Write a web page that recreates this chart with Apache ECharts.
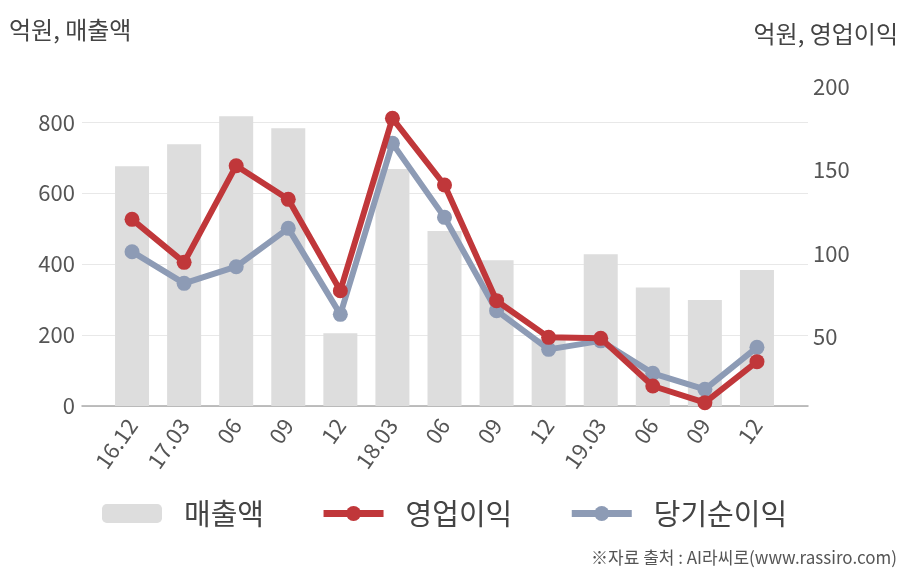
<!DOCTYPE html>
<html>
<head>
<meta charset="utf-8">
<script src="https://cdn.jsdelivr.net/npm/echarts@6/dist/echarts.min.js"></script>
<style>
html,body{margin:0;padding:0;background:#fff;}
#chart{width:908px;height:580px;}
</style>
</head>
<body>
<div id="chart"></div>
<script>
const categories = ['16.12','17.03','06','09','12','18.03','06','09','12','19.03','06','09','12'];
const sales = [676, 738, 817, 783, 205, 668, 493, 411, 190, 428, 334, 299, 383];
const operatingProfit = [120.4, 94.6, 152.6, 132.4, 77.6, 181, 141, 71.6, 49.6, 49, 20.4, 10.4, 35];
const netProfit = [101, 82, 92, 115, 63.4, 166, 121.6, 65.6, 42.4, 47.5, 28, 18.4, 43.6];
const leftTicks = [0, 200, 400, 600, 800];
const rightTicks = [50, 100, 150, 200];

const FONT = '"Noto Sans CJK KR", "Noto Sans", sans-serif';
const chart = echarts.init(document.getElementById('chart'));

const option = {
  backgroundColor: '#ffffff',
  animation: false,
  textStyle: { fontFamily: FONT },
  graphic: [
    { type: 'text', left: 9, top: 18, style: { text: '억원, 매출액', font: '24px ' + FONT, fill: '#444' } },
    { type: 'text', right: 10, top: 22, style: { text: '억원, 영업이익', font: '24px ' + FONT, fill: '#444' } },
    { type: 'text', right: 11, top: 549, style: { text: '※자료 출처 : AI라씨로(www.rassiro.com)', font: '17px ' + FONT, fill: '#555' } }
  ],
  legend: {
    left: 102,
    top: 499,
    padding: 0,
    itemWidth: 60,
    itemHeight: 19,
    itemGap: 56,
    data: ['매출액', '영업이익', '당기순이익'],
    lineStyle: { width: 7 },
    textStyle: { fontSize: 29, color: '#444', fontFamily: FONT, padding: [0, 0, 0, 17] }
  },
  grid: [
    { left: 106, right: 125, top: 86.7, bottom: 174 },
    { left: 82, right: 100, top: 122.2, bottom: 174 }
  ],
  xAxis: [
    {
      type: 'category', gridIndex: 0, data: categories,
      axisLine: { show: false }, axisTick: { show: false },
      axisLabel: { rotate: 55, margin: 15, fontSize: 22, color: '#555', fontFamily: FONT, interval: 0 }
    },
    {
      type: 'value', gridIndex: 1, min: 0, max: 1,
      axisLine: { show: true, lineStyle: { color: '#aaaaaa', width: 1.5 } },
      axisTick: { show: false }, axisLabel: { show: false }, splitLine: { show: false }
    }
  ],
  yAxis: [
    {
      type: 'value', gridIndex: 0, min: 0, max: 900, position: 'left',
      axisLine: { show: false }, axisTick: { show: false }, splitLine: { show: false },
      axisLabel: { customValues: leftTicks, margin: 31, fontSize: 22, color: '#555', fontFamily: FONT }
    },
    {
      type: 'value', gridIndex: 0, min: 8.4, max: 200, position: 'right',
      axisLine: { show: false }, axisTick: { show: false }, splitLine: { show: false },
      axisLabel: { customValues: rightTicks, margin: 30, fontSize: 22, color: '#555', fontFamily: FONT }
    },
    {
      type: 'value', gridIndex: 1, min: 0, max: 800, interval: 200,
      axisLine: { show: false }, axisTick: { show: false }, axisLabel: { show: false },
      splitLine: { show: true, lineStyle: { color: '#e8e8e8', width: 1 } }
    }
  ],
  series: [
    {
      name: '매출액', type: 'bar', xAxisIndex: 0, yAxisIndex: 0, data: sales,
      barWidth: 34, itemStyle: { color: '#dddddd' }, z: 2
    },
    {
      name: '당기순이익', type: 'line', xAxisIndex: 0, yAxisIndex: 1, data: netProfit,
      symbol: 'circle', symbolSize: 15, lineStyle: { width: 6, color: '#8d9bb5' },
      itemStyle: { color: '#8d9bb5' }, z: 3
    },
    {
      name: '영업이익', type: 'line', xAxisIndex: 0, yAxisIndex: 1, data: operatingProfit,
      symbol: 'circle', symbolSize: 15, lineStyle: { width: 6, color: '#c0373a' },
      itemStyle: { color: '#c0373a' }, z: 4
    }
  ]
};
chart.setOption(option);
</script>
</body>
</html>
